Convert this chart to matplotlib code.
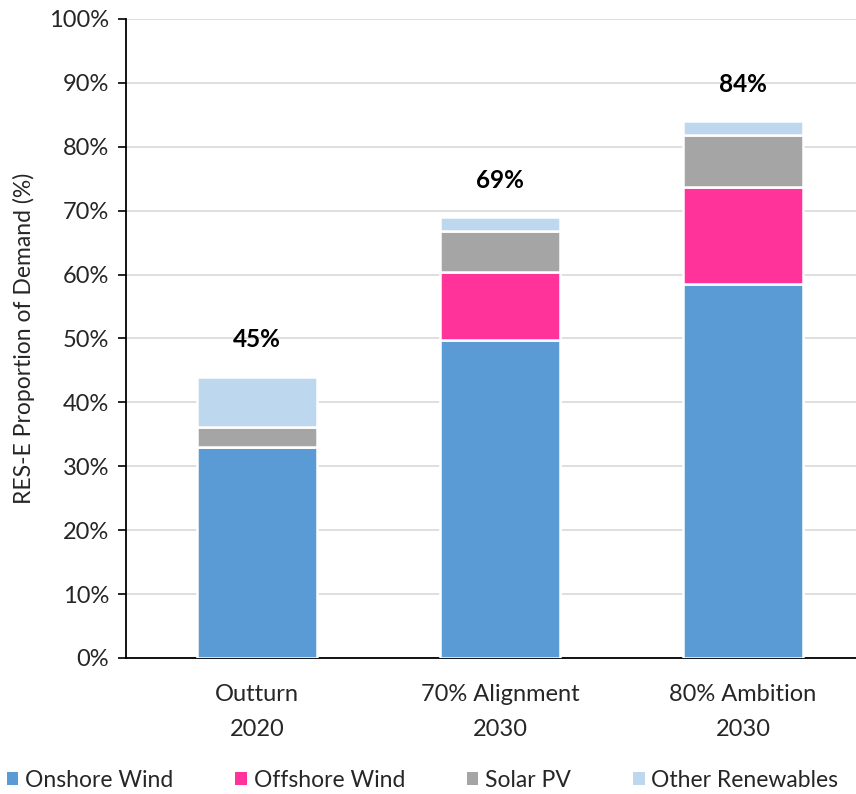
import matplotlib
matplotlib.use('Agg')
import matplotlib.pyplot as plt
from matplotlib.patches import Patch
import numpy as np

plt.rcParams['font.family'] = ['Lato', 'DejaVu Sans']
plt.rcParams['text.color'] = '#262626'

scenarios = ['Outturn\n2020', '70% Alignment\n2030', '80% Ambition\n2030']
onshore = [33.0, 49.8, 58.5]
offshore = [0.0, 10.6, 15.2]
solar = [3.1, 6.4, 8.1]
other = [7.9, 2.2, 2.2]
totals = ['45%', '69%', '84%']

series = [
    ('Onshore Wind', onshore, '#5b9bd5'),
    ('Offshore Wind', offshore, '#ff3399'),
    ('Solar PV', solar, '#a5a5a5'),
    ('Other Renewables', other, '#bdd7ee'),
]

fig = plt.figure(figsize=(8.56, 7.94), dpi=100)
ax = fig.add_axes([0.147, 0.1713, 0.853, 0.8048])

x = np.arange(len(scenarios))
bottom = np.zeros(len(scenarios))
for name, vals, color in series:
    vals = np.array(vals)
    ax.bar(x, vals, 0.494, bottom=bottom, color=color, edgecolor='white',
           linewidth=1.8, zorder=3)
    bottom += vals

for xi, top, lab in zip(x, bottom, totals):
    ax.text(xi, top + 5.8, lab, ha='center', va='center', fontsize=17.5,
            fontweight='bold', color='#000000')

ax.set_ylim(0, 100)
ax.set_xlim(-0.539, 2.465)
ax.set_yticks(np.arange(0, 101, 10))
ax.set_yticklabels([f'{v}%' for v in range(0, 101, 10)], fontsize=17,
                   color='#262626')
ax.set_xticks(x)
ax.set_xticklabels(scenarios, fontsize=17, linespacing=1.8, color='#262626')
ax.tick_params(axis='y', length=6, width=1.2, color='#000000', pad=6)
ax.tick_params(axis='x', length=0, pad=19)
ax.yaxis.grid(True, color='#d9d9d9', linewidth=1.2, zorder=0)
ax.set_axisbelow(True)
for s in ['top', 'right']:
    ax.spines[s].set_visible(False)
for s in ['left', 'bottom']:
    ax.spines[s].set_color('#000000')
    ax.spines[s].set_linewidth(1.3)
ax.set_ylabel('RES-E Proportion of Demand (%)', fontsize=16.5, labelpad=10,
              color='#262626')

handles = [Patch(facecolor=c, edgecolor='none', label=n) for n, _, c in series]
fig.legend(handles=handles, loc='center left', bbox_to_anchor=(-0.016, 0.017),
           ncol=4, frameon=False, fontsize=16.5, handlelength=0.5, handleheight=0.5,
           handletextpad=0.3, columnspacing=2.7)

fig.savefig('out.png', dpi=100)
